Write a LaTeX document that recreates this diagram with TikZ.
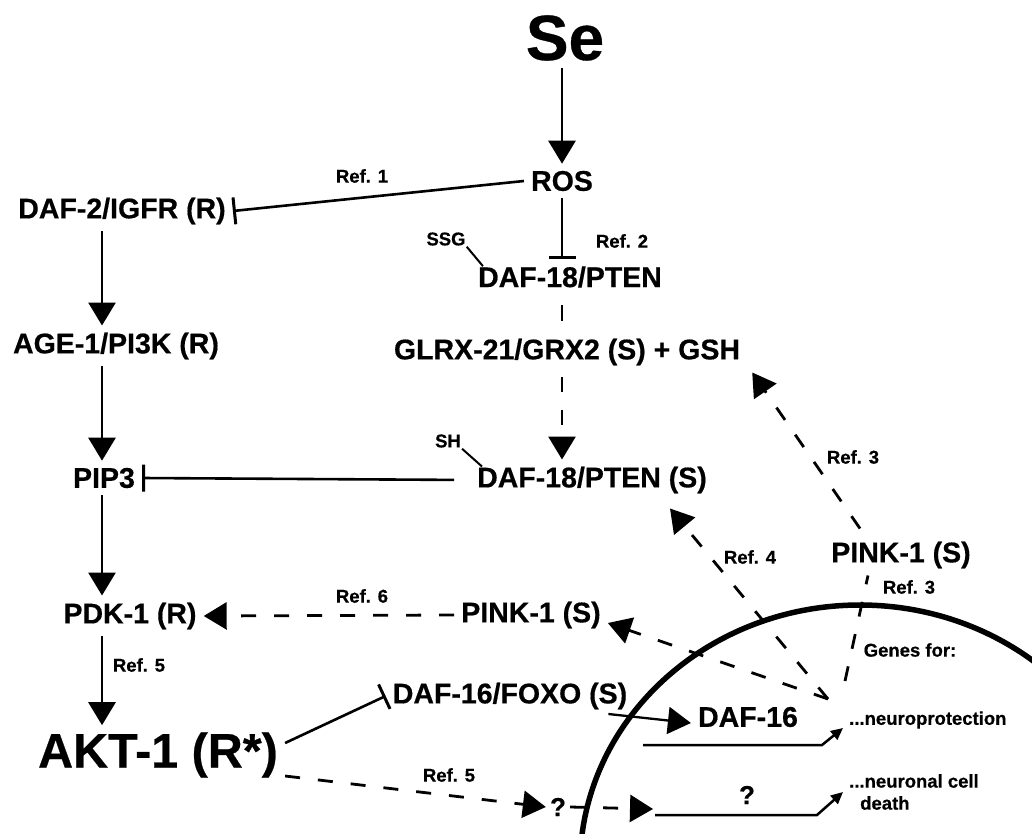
\documentclass[tikz,border=0pt]{standalone}
\usepackage{fontspec}
\setmainfont{Liberation Sans}[BoldFeatures={FakeBold=0.5}]
\usetikzlibrary{arrows.meta,positioning}

\begin{document}
\begin{tikzpicture}[x=1pt,y=-1pt,
  mol/.style={font=\fontsize{28.5}{30}\selectfont\bfseries, inner sep=7pt},
  reflab/.style={font=\fontsize{18.5}{22}\selectfont\bfseries, inner sep=1pt, align=left},
  act/.style={-{Triangle[length=23pt,width=27pt]}, line width=2.8pt},
  dact/.style={act, dash pattern=on 15pt off 18pt},
  inh/.style={-{Bar[width=27pt,line width=3pt]}, line width=2.6pt},
  gene/.style={-{Triangle[length=12pt,width=11pt]}, line width=2.5pt},
  thinline/.style={line width=2pt}]
  \fill[white] (0,0) rectangle (1032,834);
  \useasboundingbox (0,0) rectangle (1032,834);

  % Nucleus
  \begin{scope}
    \clip (0,0) rectangle (1032,834);
    \draw[line width=5.5pt] (860,866) ellipse [x radius=280, y radius=261];
  \end{scope}

  % Left column - insulin signalling
  \coordinate (colx) at (102,0);
  \node[mol] (daf2) at (122,211) {DAF-2/IGFR (R)};
  \node[mol] (age1) at (116,346) {AGE-1/PI3K (R)};
  \node[mol] (pip3) at (104,478) {PIP3};
  \node[mol] (pdk1) at (130,616) {PDK-1 (R)};
  \node[font=\fontsize{48.5}{52}\selectfont\bfseries, inner sep=7pt] (akt1) at (158,755) {AKT-1 (R*)};

  % Centre column - Se, ROS and PTEN
  \node[font=\fontsize{64}{70}\selectfont\bfseries, inner sep=7pt] (se) at (565,38) {Se};
  \node[mol] (ros) at (562,181) {ROS};
  \node[mol] (pten) at (570,277) {DAF-18/PTEN};
  \node[mol] (glrx) at (567,352) {GLRX-21/GRX2 (S) + GSH};
  \node[mol] (ptens) at (592,480) {DAF-18/PTEN (S)};
  \node[reflab] (ssg) at (446,239) {SSG};
  \node[reflab] (sh) at (448,441) {SH};
  \node[mol] (pinkm) at (531,615) {PINK-1 (S)};
  \node[mol] (pinkr) at (901,555) {PINK-1 (S)};
  \node[mol] (foxo) at (510,696) {DAF-16/FOXO (S)};
  \node[mol] (daf16) at (748,717) {DAF-16};
  \node[font=\fontsize{26}{28}\selectfont\bfseries, inner sep=4pt] (q1) at (558,807) {?};
  \node[font=\fontsize{26}{28}\selectfont\bfseries, inner sep=4pt] (q2) at (747,795) {?};

  % Genes inside the nucleus
  \node[reflab] (genes) at (910,650) {Genes for:};
  \node[reflab, anchor=west] (neuro) at (848,720) {...neuroprotection};
  \node[reflab, anchor=west] (death) at (848,792) {...neuronal cell\\\hspace*{11pt}death};

  % References
  \node[reflab] (r1) at (362,176) {Ref. 1};
  \node[reflab] (r2) at (622,241) {Ref. 2};
  \node[reflab] (r3a) at (853,457) {Ref. 3};
  \node[reflab] (r3b) at (909,587) {Ref. 3};
  \node[reflab] (r4) at (750,557) {Ref. 4};
  \node[reflab] (r5a) at (139,665) {Ref. 5};
  \node[reflab] (r5b) at (449,775) {Ref. 5};
  \node[reflab] (r6) at (362,596) {Ref. 6};

  % Solid arrows
  \draw[act] (se.south -| ros) -- (ros.north);
  \draw[act] (daf2.south -| colx) -- (age1.north -| colx);
  \draw[act] (age1.south -| colx) -- (pip3.north -| colx);
  \draw[act] (pip3.south -| colx) -- (pdk1.north -| colx);
  \draw[act] (pdk1.south -| colx) -- (akt1.north -| colx);
  \draw[act, line width=2.3pt] ([shift={(-26,18)}]foxo.east) -- ([yshift=-6pt]daf16.west);

  % Inhibitions
  \draw[inh] (ros.west) -- (daf2.east);
  \draw[inh] (ros.south) -- (pten.north -| ros);
  \draw[inh, shorten <=16pt] (ptens.west) -- (pip3.east);
  \draw[inh] ([yshift=12pt]akt1.east) -- (foxo.west);

  % Modifications
  \draw[thinline] (ssg.south east) -- ([shift={(12,7)}]pten.north west);
  \draw[thinline] (sh.south east) -- ([shift={(12,7)}]ptens.north west);

  % Dashed links
  \draw[line width=2.8pt, dash pattern=on 16pt off 40pt, dash phase=-10pt] (pten.south -| ros) -- (glrx.north -| ros);
  \draw[dact, dash phase=-5pt] (glrx.south -| ros) -- (ptens.north -| ros);
  \draw[dact] (pinkm.west) -- (pdk1.east);
  \draw[dact] ([yshift=-21pt]akt1.east) -- (q1.west);
  \coordinate (qin) at (653,809);
  \draw[dact] (q1.east) -- (qin);
  \coordinate (gn) at (828,699);
  \coordinate (gn3) at (845,681);
  \draw[dact] (gn) -- ([yshift=-8pt]pinkm.east);
  \draw[dact] (gn) -- ([xshift=78pt,yshift=-8pt]ptens.south);
  \draw[line width=2.8pt, dash pattern=on 15pt off 18pt] (gn3) -- ([xshift=-33pt]pinkr.south);
  \draw[dact] ([xshift=-41pt,yshift=6pt]pinkr.north) -- ([xshift=5pt]glrx.south east);

  % Gene expression
  \coordinate (np0) at (643,745);
  \coordinate (nd0) at (655,815);
  \draw[gene] (np0) -- ++(179,0) -- ([shift={(-5,8)}]neuro.west);
  \draw[gene] (nd0) -- ++(162,0) -- ([xshift=-5pt]death.west);
\end{tikzpicture}
\end{document}
